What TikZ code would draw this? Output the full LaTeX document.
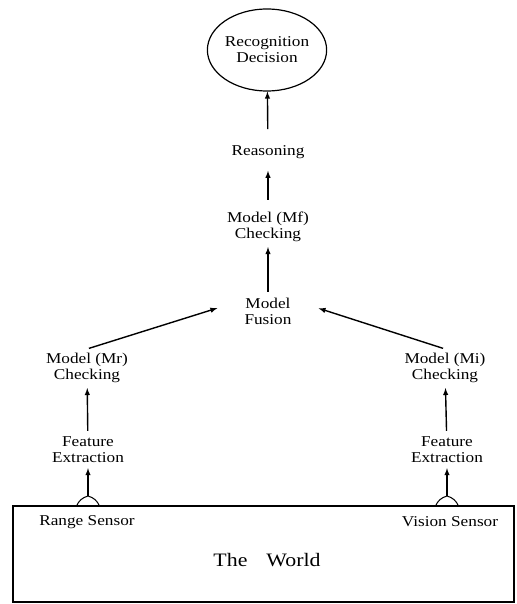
\documentclass[tikz,border=0pt]{standalone}
\usepackage{fontspec}
\setmainfont{Liberation Serif}[FakeStretch=1.15]
\usetikzlibrary{positioning,arrows,shapes.geometric}

\begin{document}
\begin{tikzpicture}[x=1pt,y=-1pt,
  lbl/.style={align=center,font=\fontsize{15}{16}\selectfont,inner sep=4pt},
  flow/.style={-latex,line width=1.4pt,shorten <=2pt,shorten >=1pt}]
  \def\bw{11.5} % half width of a sensor bump
  \def\bh{10} % height of a sensor bump
  \useasboundingbox (0,0) rectangle (516,604);
  % the world with its two sensors
  \node[draw,line width=1.2pt,minimum width=501pt,minimum height=96pt,inner sep=0pt] (world) at (263.5,554) {};
  \node[font=\fontsize{19}{20}\selectfont] (worldtxt) at (267,560) {The\quad World};
  \node[lbl] (rsensor) at (87,522) {Range Sensor};
  \node[lbl] (vsensor) at (450,522) {Vision Sensor};
  \foreach \x/\n in {88/rbump,447/vbump} {
    \coordinate (\n) at (\x,506-\bh);
    \draw[line width=1pt] (\x-\bw,506) to[bend left=25] (\n) to[bend left=25] (\x+\bw,506);
  }
  % processing chain
  \node[lbl] (rfeat) at (88,450) {Feature\\Extraction};
  \node[lbl] (vfeat) at (447,450) {Feature\\Extraction};
  \node[lbl] (mrcheck) at (87,368) {Model (Mr)\\Checking};
  \node[lbl] (micheck) at (445,368) {Model (Mi)\\Checking};
  \node[lbl] (fusion) at (268,311) {Model\\Fusion};
  \node[lbl] (mfcheck) at (268,227) {Model (Mf)\\Checking};
  \node[lbl] (reason) at (268,152) {Reasoning};
  \node[draw,ellipse,line width=1.2pt,minimum width=106pt,minimum height=82pt,
    lbl,inner sep=0pt] (decision) at (267,50) {Recognition\\Decision};
  % arrows
  \draw[flow,shorten <=0pt] (rbump) -- (rfeat);
  \draw[flow,shorten <=0pt] (vbump) -- (vfeat);
  \draw[flow] (rfeat) -- (mrcheck);
  \draw[flow] (vfeat) -- (micheck);
  \draw[flow,shorten >=24pt] (mrcheck.north) -- (fusion.160);
  \draw[flow,shorten >=24pt] (micheck.north) -- (fusion.20);
  \draw[flow] (fusion) -- (mfcheck);
  \draw[flow,shorten <=8pt,shorten >=8pt] (mfcheck) -- (reason);
  \draw[flow,shorten <=12pt,shorten >=0pt] (reason) -- (decision);
\end{tikzpicture}
\end{document}
